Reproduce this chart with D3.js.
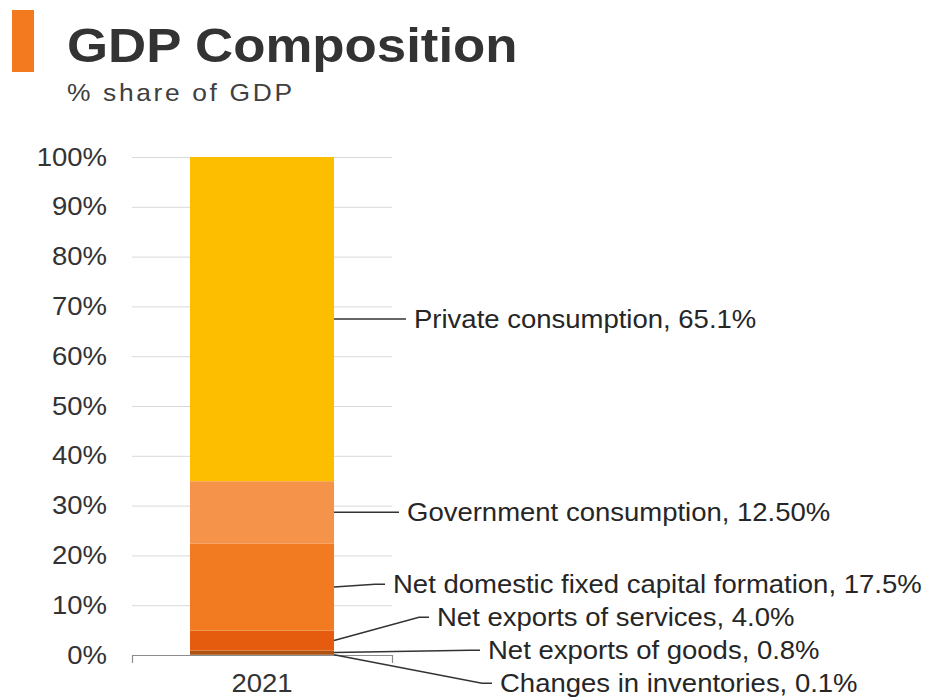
<!DOCTYPE html>
<html>
<head>
<meta charset="utf-8">
<script src="https://cdn.jsdelivr.net/npm/d3@7"></script>
<style>
  html, body { margin: 0; padding: 0; background: #fff; }
  svg { display: block; font-family: "Liberation Sans", Arial, sans-serif; }
</style>
</head>
<body>
<svg id="chart" width="932" height="700"></svg>
<script>
// ---------------- data ----------------
const years = ["2021"];
const categories = [
  "Changes in inventories",
  "Net exports of goods",
  "Net exports of services",
  "Net domestic fixed capital formation",
  "Government consumption",
  "Private consumption"
];
const values2021 = [0.1, 0.8, 4.0, 17.5, 12.5, 65.1];
const valueLabels = ["0.1%", "0.8%", "4.0%", "17.5%", "12.50%", "65.1%"];
const yTickValues = [0, 10, 20, 30, 40, 50, 60, 70, 80, 90, 100];
const seriesColors = ["#8a3f0c", "#b0520f", "#e65c0e", "#f27a20", "#f5934a", "#fdbe00"];
const titleText = "GDP Composition";
const subtitleText = "% share of GDP";

// ---------------- layout ----------------
const W = 932, H = 700;
const SX = 1.1; // horizontal text stretch as in reference
const plot = { left: 132, right: 392, top: 157, bottom: 655 };
// horizontal offset of each data label from the bar's right edge
const labelOffset = {
  "Private consumption": 80,
  "Government consumption": 73,
  "Net domestic fixed capital formation": 59,
  "Net exports of services": 103,
  "Net exports of goods": 154,
  "Changes in inventories": 166
};

const svg = d3.select("#chart");

// title block
svg.append("rect").attr("x", 12).attr("y", 10).attr("width", 22).attr("height", 62).attr("fill", "#f47a20");
svg.append("text").attr("transform", `translate(67,62) scale(${SX},1)`)
  .attr("font-size", 48).attr("font-weight", "bold").attr("fill", "#333")
  .text(titleText);
svg.append("text").attr("transform", `translate(67,101) scale(${SX},1)`)
  .attr("font-size", 24).attr("letter-spacing", 2.4).attr("fill", "#404040")
  .text(subtitleText);

// scales
const x = d3.scaleBand().domain(years).range([plot.left, plot.right]).paddingInner(0.287).paddingOuter(0.287);
const y = d3.scaleLinear().domain([0, 100]).range([plot.bottom, plot.top]);

// y axis + gridlines
const yAxis = svg.append("g").attr("transform", `translate(${plot.left},0)`)
  .call(d3.axisLeft(y).tickValues(yTickValues).tickFormat(d => d + "%")
    .tickSize(-(plot.right - plot.left)).tickPadding(25 / SX));
yAxis.select(".domain").remove();
yAxis.selectAll(".tick line").attr("stroke", "#d9d9d9").attr("stroke-width", 1)
  .filter(d => d === 0).remove();
yAxis.selectAll(".tick text").attr("font-size", 25).attr("fill", "#333")
  .attr("font-family", "'Liberation Sans', Arial, sans-serif")
  .attr("transform", `scale(${SX},1)`);

// stacked data
const row = { year: "2021" };
categories.forEach((c, i) => row[c] = values2021[i]);
const stacked = d3.stack().keys(categories)([row]);

const bars = svg.append("g");
stacked.forEach((s, i) => {
  bars.selectAll(null).data(s).enter().append("rect")
    .attr("x", d => x(d.data.year))
    .attr("width", x.bandwidth())
    .attr("y", d => y(d[1]))
    .attr("height", d => Math.max(0, y(d[0]) - y(d[1])))
    .attr("fill", seriesColors[i]);
});

// x axis
const xAxis = svg.append("g").attr("transform", `translate(0,${plot.bottom})`)
  .call(d3.axisBottom(x).tickSizeInner(0).tickSizeOuter(8).tickPadding(19));
xAxis.select(".domain").attr("stroke", "#8c8c8c").attr("stroke-width", 1.2);
xAxis.selectAll(".tick text").attr("font-size", 25).attr("fill", "#333")
  .attr("font-family", "'Liberation Sans', Arial, sans-serif")
  .attr("transform", `scale(${SX},1)`);

// label layout: start at segment middles, then separate overlapping labels by clustering
const gap = 33;
let items = stacked.map((s, i) => ({
  key: s.key, i, mid: y((s[0][0] + s[0][1]) / 2)
})).sort((a, b) => a.mid - b.mid);
let clusters = items.map(it => ({ members: [it], center: it.mid }));
let merged = true;
while (merged) {
  merged = false;
  for (let k = 0; k < clusters.length - 1; k++) {
    const a = clusters[k], b = clusters[k + 1];
    const aBottom = a.center + (a.members.length - 1) * gap / 2;
    const bTop = b.center - (b.members.length - 1) * gap / 2;
    if (bTop - aBottom < gap) {
      const members = a.members.concat(b.members);
      const center = d3.mean(members, m => m.mid);
      clusters.splice(k, 2, { members, center });
      merged = true;
      break;
    }
  }
}
clusters.forEach(c => {
  c.members.forEach((m, j) => {
    m.ly = c.center + (j - (c.members.length - 1) / 2) * gap;
  });
});

const barRight = x("2021") + x.bandwidth();
const labels = svg.append("g");
items.forEach(it => {
  const tx = barRight + labelOffset[it.key];
  labels.append("path")
    .attr("d", d3.line()([[barRight, it.mid], [tx - 18, it.ly], [tx - 8, it.ly]]))
    .attr("fill", "none").attr("stroke", "#333").attr("stroke-width", 1.5);
  labels.append("text")
    .attr("transform", `translate(${tx},${it.ly}) scale(${SX},1)`)
    .attr("dy", "0.35em")
    .attr("font-size", 25).attr("fill", "#262626")
    .text(`${it.key}, ${valueLabels[it.i]}`);
});
</script>
</body>
</html>
